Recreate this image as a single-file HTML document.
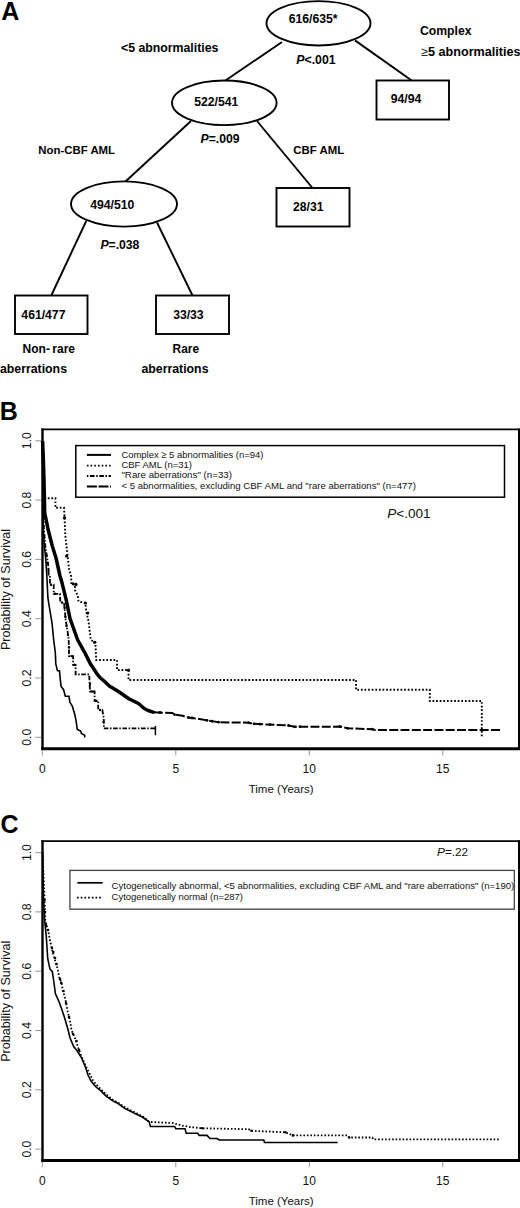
<!DOCTYPE html>
<html><head><meta charset="utf-8"><title>Figure</title>
<style>
html,body{margin:0;padding:0;background:#fff;}
body{width:520px;height:1208px;overflow:hidden;}
svg{display:block;}
text{font-family:"Liberation Sans",sans-serif;}
</style></head>
<body>
<svg width="520" height="1208" viewBox="0 0 520 1208" font-family="Liberation Sans, sans-serif">
<rect width="520" height="1208" fill="#fff"/>
<text x="1.2" y="19.6" font-size="25" font-weight="bold" text-anchor="start" >A</text>
<ellipse cx="318.5" cy="23.3" rx="52" ry="22.2" fill="none" stroke="#000" stroke-width="1.9"/>
<ellipse cx="224.3" cy="102.8" rx="52.3" ry="22.3" fill="none" stroke="#000" stroke-width="1.9"/>
<ellipse cx="124" cy="204" rx="53" ry="22.6" fill="none" stroke="#000" stroke-width="1.9"/>
<rect x="376.5" y="80.5" width="72.5" height="39.0" fill="none" stroke="#000" stroke-width="1.9"/>
<rect x="276.5" y="188" width="73.0" height="38.5" fill="none" stroke="#000" stroke-width="1.9"/>
<rect x="15" y="295.5" width="72.5" height="38.5" fill="none" stroke="#000" stroke-width="1.9"/>
<rect x="156" y="295.5" width="73" height="38.5" fill="none" stroke="#000" stroke-width="1.9"/>
<line x1="282" y1="42" x2="225.5" y2="80.5" stroke="#000" stroke-width="1.9"/>
<line x1="355" y1="40.4" x2="411.7" y2="80.5" stroke="#000" stroke-width="1.9"/>
<line x1="191" y1="121" x2="125.5" y2="181.5" stroke="#000" stroke-width="1.9"/>
<line x1="257" y1="121" x2="312.5" y2="188" stroke="#000" stroke-width="1.9"/>
<line x1="86.25" y1="221" x2="51.25" y2="295.5" stroke="#000" stroke-width="1.9"/>
<line x1="157" y1="222.5" x2="192.5" y2="295.5" stroke="#000" stroke-width="1.9"/>
<text x="121" y="51.9" font-size="12.3" font-weight="bold" text-anchor="start" >&lt;5 abnormalities</text>
<text x="313.2" y="23.4" font-size="12.2" font-weight="bold" text-anchor="middle" >616/635*</text>
<text x="296.3" y="63.8" font-size="12.3" font-weight="bold"><tspan font-style="italic">P</tspan>&lt;.001</text>
<text x="420" y="35.3" font-size="12.2" font-weight="bold" text-anchor="start" >Complex</text>
<text x="421.2" y="56.2" font-size="12.6" font-weight="bold"><tspan font-weight="normal" fill="#333">≥</tspan>5 abnormalities</text>
<text x="406" y="103.3" font-size="12.2" font-weight="bold" text-anchor="middle" >94/94</text>
<text x="216.3" y="105.75" font-size="12.2" font-weight="bold" text-anchor="middle" >522/541</text>
<text x="200.6" y="143" font-size="12.2" font-weight="bold"><tspan font-style="italic">P</tspan>=.009</text>
<text x="38.3" y="153.75" font-size="11.4" font-weight="bold" text-anchor="start" >Non-CBF AML</text>
<text x="293.3" y="154.25" font-size="11.4" font-weight="bold" text-anchor="start" >CBF AML</text>
<text x="308.2" y="211.25" font-size="12.2" font-weight="bold" text-anchor="middle" >28/31</text>
<text x="112.3" y="208.75" font-size="12.2" font-weight="bold" text-anchor="middle" >494/510</text>
<text x="100.4" y="248.75" font-size="12.2" font-weight="bold"><tspan font-style="italic">P</tspan>=.038</text>
<text x="43.4" y="318.75" font-size="12.2" font-weight="bold" text-anchor="middle" >461/477</text>
<text x="188.4" y="318.75" font-size="12.2" font-weight="bold" text-anchor="middle" >33/33</text>
<text x="22.6" y="352.5" font-size="12" font-weight="bold" text-anchor="start" >Non- rare</text>
<text x="172.6" y="352.5" font-size="11.9" font-weight="bold" text-anchor="start" >Rare</text>
<text x="0" y="373" font-size="12.3" font-weight="bold" text-anchor="start" >aberrations</text>
<text x="141.5" y="373" font-size="12.3" font-weight="bold" text-anchor="start" >aberrations</text>
<text x="-0.2" y="420" font-size="25" font-weight="bold" text-anchor="start" >B</text>
<line x1="41.3" y1="429.3" x2="519.5" y2="429.3" stroke="#000" stroke-width="1.8"/>
<line x1="519" y1="428.40000000000003" x2="519" y2="750.1" stroke="#000" stroke-width="2"/>
<line x1="42.5" y1="428.40000000000003" x2="42.5" y2="750.1" stroke="#000" stroke-width="2.4"/>
<line x1="41.3" y1="748.7" x2="520" y2="748.7" stroke="#000" stroke-width="3"/>
<line x1="35.3" y1="737.3" x2="41.3" y2="737.3" stroke="#888" stroke-width="0.9"/>
<text x="0" y="0" font-size="12.2" text-anchor="middle" fill="#111" transform="translate(31.2,737.3) rotate(-90)">0.0</text>
<line x1="35.3" y1="678.0" x2="41.3" y2="678.0" stroke="#888" stroke-width="0.9"/>
<text x="0" y="0" font-size="12.2" text-anchor="middle" fill="#111" transform="translate(31.2,678.0) rotate(-90)">0.2</text>
<line x1="35.3" y1="618.7" x2="41.3" y2="618.7" stroke="#888" stroke-width="0.9"/>
<text x="0" y="0" font-size="12.2" text-anchor="middle" fill="#111" transform="translate(31.2,618.7) rotate(-90)">0.4</text>
<line x1="35.3" y1="559.4" x2="41.3" y2="559.4" stroke="#888" stroke-width="0.9"/>
<text x="0" y="0" font-size="12.2" text-anchor="middle" fill="#111" transform="translate(31.2,559.4) rotate(-90)">0.6</text>
<line x1="35.3" y1="500.1" x2="41.3" y2="500.1" stroke="#888" stroke-width="0.9"/>
<text x="0" y="0" font-size="12.2" text-anchor="middle" fill="#111" transform="translate(31.2,500.1) rotate(-90)">0.8</text>
<line x1="35.3" y1="440.8" x2="41.3" y2="440.8" stroke="#888" stroke-width="0.9"/>
<text x="0" y="0" font-size="12.2" text-anchor="middle" fill="#111" transform="translate(31.2,440.8) rotate(-90)">1.0</text>
<line x1="42.3" y1="750.2" x2="42.3" y2="755.4" stroke="#888" stroke-width="0.9"/>
<text x="42.3" y="772.8" font-size="12" text-anchor="middle" fill="#111">0</text>
<line x1="175.8" y1="750.2" x2="175.8" y2="755.4" stroke="#888" stroke-width="0.9"/>
<text x="175.8" y="772.8" font-size="12" text-anchor="middle" fill="#111">5</text>
<line x1="309.3" y1="750.2" x2="309.3" y2="755.4" stroke="#888" stroke-width="0.9"/>
<text x="309.3" y="772.8" font-size="12" text-anchor="middle" fill="#111">10</text>
<line x1="442.8" y1="750.2" x2="442.8" y2="755.4" stroke="#888" stroke-width="0.9"/>
<text x="442.8" y="772.8" font-size="12" text-anchor="middle" fill="#111">15</text>
<text x="281.2" y="793.1" font-size="11.5" text-anchor="middle" fill="#111">Time (Years)</text>
<text x="0" y="0" font-size="12.6" text-anchor="middle" fill="#111" transform="translate(9.6,589.5) rotate(-90)">Probability of Survival</text>
<rect x="75.8" y="445.6" width="428.7" height="51.6" fill="none" stroke="#000" stroke-width="1.5"/>
<line x1="86.9" y1="454.9" x2="111" y2="454.9" stroke="#000" stroke-width="2"/>
<line x1="86.9" y1="465.6" x2="111" y2="465.6" stroke="#000" stroke-width="1.7" stroke-dasharray="1.6 2.1"/>
<line x1="86.9" y1="476" x2="111" y2="476" stroke="#000" stroke-width="1.8" stroke-dasharray="1.5 1.6 4.6 1.6"/>
<line x1="86.9" y1="486.6" x2="111" y2="486.6" stroke="#000" stroke-width="2" stroke-dasharray="10 1.6"/>
<text x="121.4" y="457.8" font-size="9.9" fill="#111" textLength="142.0" lengthAdjust="spacingAndGlyphs">Complex ≥ 5 abnormalities (n=94)</text>
<text x="121.4" y="468.1" font-size="9.9" fill="#111" textLength="70.6" lengthAdjust="spacingAndGlyphs">CBF AML (n=31)</text>
<text x="121.4" y="478.4" font-size="9.9" fill="#111" textLength="110.6" lengthAdjust="spacingAndGlyphs">&quot;Rare aberrations&quot; (n=33)</text>
<text x="121.4" y="488.7" font-size="9.9" fill="#111" textLength="294.5" lengthAdjust="spacingAndGlyphs">&lt; 5 abnormalities, excluding CBF AML and &quot;rare aberrations&quot; (n=477)</text>
<text x="387.3" y="518.1" font-size="13.5" fill="#111"><tspan font-style="italic">P</tspan>&lt;.001</text>
<path d="M42.6,441.0 L43.2,455.0 L44.0,480.0 L44.4,497.0 L44.7,513.0 L46.4,521.0 L48.2,530.0 L52.3,546.0 L56.0,558.0 L60.0,576.0 L62.0,582.8 L66.1,599.3 L70.0,618.5 L77.7,640.0 L84.6,652.3 L90.8,664.6 L97.0,673.8 L100.0,677.5 L104.6,681.5 L109.6,686.2 L112.3,687.7 L119.2,692.0 L128.8,698.7 L138.5,703.5 L144.6,708.8 L148.0,710.5 L153.8,712.3" fill="none" stroke="#000" stroke-width="3.5" stroke-linejoin="round"/>
<path d="M153.8,712.3 L172.3,713.0 L174.6,714.6 L182.7,715.8 L188.5,717.6 L196.5,718.5 L207.0,720.4 L218.5,722.2 L248.5,722.7 L253.0,723.8 L288.5,725.5 L294.6,726.8 L340.0,726.6 L347.7,728.3 L372.3,729.2 L375.0,730.0 L500.8,730.0" fill="none" stroke="#000" stroke-width="2" stroke-dasharray="9 2.3"/>
<circle cx="153.8" cy="712.3" r="1.4" fill="#000"/>
<circle cx="160" cy="712.5" r="1.4" fill="#000"/>
<circle cx="174.6" cy="714.6" r="1.4" fill="#000"/>
<circle cx="188.5" cy="717.6" r="1.4" fill="#000"/>
<circle cx="192" cy="718" r="1.4" fill="#000"/>
<circle cx="207" cy="720.4" r="1.4" fill="#000"/>
<circle cx="212" cy="721.2" r="1.4" fill="#000"/>
<circle cx="218.5" cy="722.2" r="1.4" fill="#000"/>
<circle cx="248.5" cy="722.7" r="1.4" fill="#000"/>
<circle cx="254" cy="723.8" r="1.4" fill="#000"/>
<circle cx="260" cy="724.2" r="1.4" fill="#000"/>
<circle cx="270" cy="724.6" r="1.4" fill="#000"/>
<circle cx="288.5" cy="725.5" r="1.4" fill="#000"/>
<circle cx="294.6" cy="726.8" r="1.4" fill="#000"/>
<circle cx="300" cy="726.7" r="1.4" fill="#000"/>
<circle cx="340" cy="726.6" r="1.4" fill="#000"/>
<circle cx="347.7" cy="728.3" r="1.4" fill="#000"/>
<circle cx="372.3" cy="729.2" r="1.4" fill="#000"/>
<path d="M42.6,441.0 L42.8,500.0 L43.3,530.0 L44.6,548.3 L45.8,560.0 L46.8,575.0 L47.9,598.0 L49.9,610.4 L52.0,622.8 L53.7,640.0 L55.3,652.4 L55.8,664.0 L57.4,670.6 L59.5,671.0 L60.3,679.7 L61.1,686.4 L63.6,689.7 L65.3,696.3 L69.0,696.3 L69.8,702.1 L72.3,706.2 L74.8,714.5 L76.0,720.3 L77.3,729.4 L80.6,731.1 L81.4,733.5 L84.7,735.2 L84.7,737.5" fill="none" stroke="#000" stroke-width="1.6"/>
<circle cx="46.5" cy="556" r="1.2" fill="#000"/>
<circle cx="47.5" cy="563" r="1.2" fill="#000"/>
<circle cx="48.5" cy="570" r="1.2" fill="#000"/>
<circle cx="51" cy="584.7" r="1.2" fill="#000"/>
<circle cx="55" cy="593.8" r="1.2" fill="#000"/>
<circle cx="62" cy="602.6" r="1.2" fill="#000"/>
<circle cx="64.6" cy="608" r="1.2" fill="#000"/>
<circle cx="65.4" cy="617" r="1.2" fill="#000"/>
<circle cx="66.5" cy="626" r="1.2" fill="#000"/>
<circle cx="68" cy="635" r="1.2" fill="#000"/>
<circle cx="69" cy="647.5" r="1.2" fill="#000"/>
<circle cx="71.5" cy="656.1" r="1.2" fill="#000"/>
<circle cx="74.5" cy="664.8" r="1.2" fill="#000"/>
<circle cx="90" cy="684" r="1.2" fill="#000"/>
<circle cx="92" cy="691.5" r="1.2" fill="#000"/>
<circle cx="96" cy="700.8" r="1.2" fill="#000"/>
<circle cx="100" cy="710" r="1.2" fill="#000"/>
<circle cx="103.5" cy="722" r="1.2" fill="#000"/>
<path d="M42.6,441.0 L43.0,500.0 L44.0,530.0 L45.5,548.0 L47.0,556.6 L48.3,566.5 L48.7,575.6 L49.9,575.6 L49.9,584.7 L53.7,584.7 L53.7,593.8 L59.9,593.8 L60.3,602.1 L64.0,602.9 L64.8,610.4 L65.7,620.3 L67.3,629.4 L68.6,639.3 L69.0,647.5 L69.0,656.1 L73.1,656.1 L73.1,664.8 L75.6,664.8 L75.6,674.3 L89.2,674.3 L90.0,691.5 L94.6,691.5 L94.6,700.8 L98.2,700.8 L98.2,710.0 L102.3,710.0 L103.8,718.5 L103.8,728.3 L155.4,728.3" fill="none" stroke="#000" stroke-width="1.8" stroke-dasharray="4.6 1.6 1.5 1.6"/>
<line x1="155.4" y1="726" x2="155.4" y2="735.2" stroke="#000" stroke-width="1.5"/>
<path d="M42.3,441.0 L43.0,470.0 L43.8,498.2 L55.4,498.2 L55.4,507.8 L64.0,507.8 L64.5,516.6 L65.3,535.6 L66.6,546.4 L67.8,558.0 L69.0,568.7 L71.1,576.2 L71.5,584.4 L74.8,584.4 L75.2,591.0 L77.7,595.2 L78.5,601.5 L85.4,603.0 L86.2,610.8 L88.5,621.5 L90.8,640.0 L95.4,642.3 L96.2,660.0 L117.0,660.0 L117.0,670.0 L128.5,670.0 L128.5,680.0 L356.0,680.0 L356.0,689.8 L429.8,689.8 L429.8,701.0 L481.8,701.0 L481.8,737.0" fill="none" stroke="#000" stroke-width="1.9" stroke-dasharray="1.7 1.9"/>
<circle cx="64.5" cy="517.7" r="1.6" fill="#000"/>
<circle cx="66.6" cy="556" r="1.6" fill="#000"/>
<circle cx="73.2" cy="583.8" r="1.6" fill="#000"/>
<circle cx="76" cy="584.4" r="1.6" fill="#000"/>
<circle cx="85.4" cy="603" r="1.6" fill="#000"/>
<circle cx="87.7" cy="613" r="1.6" fill="#000"/>
<circle cx="94.6" cy="642.3" r="1.6" fill="#000"/>
<circle cx="128.5" cy="670" r="1.6" fill="#000"/>
<text x="0.6" y="832.9" font-size="25" font-weight="bold" text-anchor="start" >C</text>
<line x1="41.3" y1="841.1" x2="519.5" y2="841.1" stroke="#000" stroke-width="1.8"/>
<line x1="519" y1="840.2" x2="519" y2="1161.9" stroke="#000" stroke-width="2"/>
<line x1="42.5" y1="840.2" x2="42.5" y2="1161.9" stroke="#000" stroke-width="2.4"/>
<line x1="41.3" y1="1160.5" x2="520" y2="1160.5" stroke="#000" stroke-width="3"/>
<line x1="35.3" y1="1149.1" x2="41.3" y2="1149.1" stroke="#888" stroke-width="0.9"/>
<text x="0" y="0" font-size="12.2" text-anchor="middle" fill="#111" transform="translate(31.2,1149.1) rotate(-90)">0.0</text>
<line x1="35.3" y1="1089.8" x2="41.3" y2="1089.8" stroke="#888" stroke-width="0.9"/>
<text x="0" y="0" font-size="12.2" text-anchor="middle" fill="#111" transform="translate(31.2,1089.8) rotate(-90)">0.2</text>
<line x1="35.3" y1="1030.5" x2="41.3" y2="1030.5" stroke="#888" stroke-width="0.9"/>
<text x="0" y="0" font-size="12.2" text-anchor="middle" fill="#111" transform="translate(31.2,1030.5) rotate(-90)">0.4</text>
<line x1="35.3" y1="971.2" x2="41.3" y2="971.2" stroke="#888" stroke-width="0.9"/>
<text x="0" y="0" font-size="12.2" text-anchor="middle" fill="#111" transform="translate(31.2,971.2) rotate(-90)">0.6</text>
<line x1="35.3" y1="911.9" x2="41.3" y2="911.9" stroke="#888" stroke-width="0.9"/>
<text x="0" y="0" font-size="12.2" text-anchor="middle" fill="#111" transform="translate(31.2,911.9) rotate(-90)">0.8</text>
<line x1="35.3" y1="852.6" x2="41.3" y2="852.6" stroke="#888" stroke-width="0.9"/>
<text x="0" y="0" font-size="12.2" text-anchor="middle" fill="#111" transform="translate(31.2,852.6) rotate(-90)">1.0</text>
<line x1="42.3" y1="1162.0" x2="42.3" y2="1167.2" stroke="#888" stroke-width="0.9"/>
<text x="42.3" y="1184.6" font-size="12" text-anchor="middle" fill="#111">0</text>
<line x1="175.8" y1="1162.0" x2="175.8" y2="1167.2" stroke="#888" stroke-width="0.9"/>
<text x="175.8" y="1184.6" font-size="12" text-anchor="middle" fill="#111">5</text>
<line x1="309.3" y1="1162.0" x2="309.3" y2="1167.2" stroke="#888" stroke-width="0.9"/>
<text x="309.3" y="1184.6" font-size="12" text-anchor="middle" fill="#111">10</text>
<line x1="442.8" y1="1162.0" x2="442.8" y2="1167.2" stroke="#888" stroke-width="0.9"/>
<text x="442.8" y="1184.6" font-size="12" text-anchor="middle" fill="#111">15</text>
<text x="281.2" y="1204.9" font-size="11.5" text-anchor="middle" fill="#111">Time (Years)</text>
<text x="0" y="0" font-size="12.6" text-anchor="middle" fill="#111" transform="translate(9.6,1001.3) rotate(-90)">Probability of Survival</text>
<rect x="69.9" y="870.4" width="444.4" height="38.8" fill="none" stroke="#444" stroke-width="1.3"/>
<line x1="77.3" y1="882.8" x2="102.7" y2="882.8" stroke="#000" stroke-width="1.7"/>
<line x1="77" y1="897.6" x2="102.7" y2="897.6" stroke="#000" stroke-width="1.7" stroke-dasharray="1.7 2"/>
<text x="111.6" y="889.0" font-size="9.9" fill="#111" textLength="402.6" lengthAdjust="spacingAndGlyphs">Cytogenetically abnormal, &lt;5 abnormalities, excluding CBF AML and &quot;rare aberrations&quot; (n=190)</text>
<text x="111.6" y="899.9" font-size="9.9" fill="#111" textLength="131.4" lengthAdjust="spacingAndGlyphs">Cytogenetically normal (n=287)</text>
<text x="437" y="855.6" font-size="11.8" fill="#111"><tspan font-style="italic">P</tspan>=.22</text>
<path d="M42.6,852.5 L43.0,880.0 L43.8,905.0 L44.6,920.0 L46.2,935.4 L47.7,958.5 L50.0,969.2 L52.3,971.5 L53.8,981.5 L55.4,993.8 L56.2,995.4 L59.2,1002.3 L61.5,1008.5 L64.6,1017.7 L67.7,1028.5 L70.0,1037.7 L73.8,1046.9 L76.5,1050.0 L78.5,1053.0 L81.2,1057.3 L85.8,1068.0 L88.0,1075.0 L91.0,1081.0 L96.0,1087.0 L101.2,1091.2 L105.8,1095.8 L111.9,1100.4 L118.1,1103.5 L124.2,1108.1 L130.4,1111.2 L136.5,1114.2 L142.7,1117.3 L149.2,1121.9 L150.4,1126.5 L174.6,1126.5 L175.8,1128.8 L185.0,1128.8 L186.2,1133.2 L197.7,1133.2 L199.2,1135.4 L207.0,1135.4 L210.0,1138.5 L217.0,1138.5 L219.2,1140.0 L263.8,1140.0 L264.5,1142.5 L337.7,1142.5" fill="none" stroke="#000" stroke-width="1.6"/>
<path d="M42.6,852.5 L43.3,870.0 L44.2,890.0 L45.0,910.0 L45.4,921.5 L48.5,932.3 L50.0,940.0 L52.3,950.8 L55.4,961.5 L57.7,969.2 L59.2,977.0 L61.5,983.0 L63.0,990.8 L65.4,999.2 L67.7,1011.5 L70.0,1020.8 L71.5,1030.0 L75.4,1039.2 L78.5,1048.5 L81.5,1056.2 L85.4,1065.4 L89.5,1073.5 L93.0,1080.5 L97.5,1086.0 L101.5,1090.0 L106.5,1094.5 L112.5,1099.5 L118.5,1103.0 L124.5,1107.0 L131.0,1110.5 L137.0,1113.5 L143.2,1116.8 L149.2,1121.9 L172.3,1123.0 L181.5,1125.4 L190.0,1127.0 L202.3,1128.3 L248.5,1129.2 L251.5,1130.8 L285.4,1132.3 L293.0,1135.4 L347.7,1135.4 L349.2,1137.5 L372.3,1137.5 L373.2,1139.4 L499.2,1139.4" fill="none" stroke="#000" stroke-width="1.8" stroke-dasharray="1.6 1.9"/>
<circle cx="44.5" cy="900" r="1.3" fill="#000"/>
<circle cx="45" cy="912" r="1.3" fill="#000"/>
<circle cx="46" cy="925" r="1.3" fill="#000"/>
<circle cx="48" cy="930" r="1.3" fill="#000"/>
<circle cx="52" cy="948" r="1.3" fill="#000"/>
<circle cx="53.3" cy="952" r="1.3" fill="#000"/>
<circle cx="55" cy="958" r="1.3" fill="#000"/>
<circle cx="56.5" cy="964" r="1.3" fill="#000"/>
<circle cx="60" cy="979" r="1.3" fill="#000"/>
<circle cx="61.2" cy="983" r="1.3" fill="#000"/>
<circle cx="63.5" cy="991" r="1.3" fill="#000"/>
<circle cx="66" cy="1003" r="1.3" fill="#000"/>
<circle cx="69" cy="1017" r="1.3" fill="#000"/>
<circle cx="73" cy="1034" r="1.3" fill="#000"/>
<circle cx="76.5" cy="1041" r="1.3" fill="#000"/>
<circle cx="79" cy="1050" r="1.3" fill="#000"/>
<circle cx="202.3" cy="1128.3" r="1.3" fill="#000"/>
<circle cx="251.5" cy="1130.8" r="1.3" fill="#000"/>
<circle cx="285.4" cy="1132.3" r="1.3" fill="#000"/>
<circle cx="293" cy="1135.4" r="1.3" fill="#000"/>
<circle cx="349.2" cy="1137.5" r="1.3" fill="#000"/>
</svg>
</body></html>
